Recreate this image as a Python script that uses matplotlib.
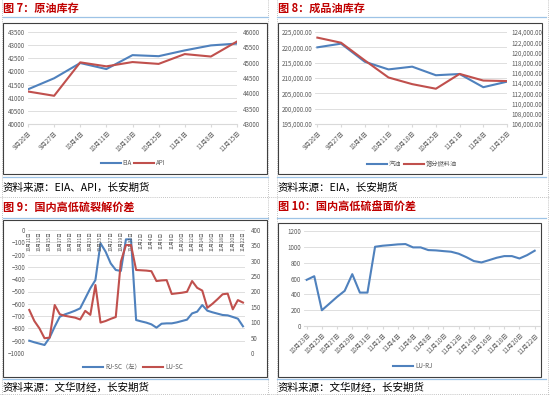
import matplotlib
matplotlib.use('Agg')
import matplotlib.pyplot as plt
import pandas as pd
from matplotlib.ticker import FuncFormatter, MultipleLocator
from matplotlib.patches import Rectangle

plt.rcParams['font.family'] = ['Noto Sans CJK SC', 'DejaVu Sans']

# ---------------- data ----------------
p7_weeks = ["9月20日", "9月27日", "10月4日", "10月11日", "10月18日",
            "10月25日", "11月1日", "11月8日", "11月15日"]
p7_eia = [41320, 41740, 42320, 42090, 42620, 42580, 42800, 42990, 43060]
p7_api = [44060, 43920, 45010, 44880, 45020, 44960, 45280, 45200, 45690]

p8_weeks = p7_weeks
p8_gasoline = [220000, 221200, 215300, 212800, 213700, 210900, 211300, 207000, 208800]
p8_distillate = [122900, 121900, 118450, 115100, 113800, 112900, 115800, 114500, 114400]

p9_dates = pd.date_range("2021-10-11", "2021-11-22", freq="D")
p9_rj_sc = [-900, -913, -924, -935, -875, -786, -705, -686, -672, -656, -637,
            -556, -474, -407, -108, -176, -271, -325, -333, -76, -76, -732,
            -743, -753, -767, -794, -762, -759, -759, -751, -740, -729, -678,
            -664, -610, -656, -669, -680, -691, -694, -707, -721, -783]
p9_lu_sc = [140, 104, 80, 48, 50, 156, 126, 121, 118, 115, 109, 137, 124, 221,
            99, 104, 111, 117, 297, 351, 351, 270, 269, 268, 266, 234, 236, 237,
            192, 194, 196, 199, 234, 212, 203, 147, 160, 175, 191, 193, 142, 172, 164]
p9_ticklabels = ["10月11日", "10月13日", "10月15日", "10月17日", "10月19日",
                 "10月21日", "10月23日", "10月25日", "10月27日", "10月29日",
                 "10月31日", "11月2日", "11月4日", "11月6日", "11月8日",
                 "11月10日", "11月12日", "11月14日", "11月16日", "11月18日",
                 "11月20日", "11月22日"]

p10_dates = pd.date_range("2021-10-23", "2021-11-22", freq="D")
p10_lu_rj = [583, 629, 199, 283, 368, 444, 655, 422, 422, 1001, 1014, 1022,
             1031, 1035, 993, 993, 959, 955, 946, 938, 913, 870, 820, 803, 832,
             862, 883, 883, 853, 895, 951]
p10_ticklabels = ["10月23日", "10月25日", "10月27日", "10月29日", "10月31日",
                  "11月2日", "11月4日", "11月6日", "11月8日", "11月10日",
                  "11月12日", "11月14日", "11月16日", "11月18日", "11月20日",
                  "11月22日"]

BLUE = '#4F81BD'
RED = '#C0504D'
GRID = '#D9D9D9'
TXT = '#595959'

W, H = 550, 395
fig = plt.figure(figsize=(5.5, 3.95), dpi=100)


def rect(x0, y0, x1, y1):
    return [x0 / W, 1 - y1 / H, (x1 - x0) / W, (y1 - y0) / H]


ov = fig.add_axes([0, 0, 1, 1], zorder=0)
ov.set_xlim(0, W)
ov.set_ylim(H, 0)
ov.axis('off')

# page decorations
for x in [2, 268, 277, 548]:
    ov.plot([x, x], [0, H], color='#B0B0B0', lw=0.6, ls=(0, (1, 1.5)))
for y in [197, 394]:
    ov.plot([0, W], [y, y], color='#B0B0B0', lw=0.6, ls=(0, (1, 1.5)))

titles = [(3, 8, "图 7：原油库存"), (278, 8, "图 8：成品油库存"),
          (3, 207, "图 9：国内高低硫裂解价差"), (278, 207, "图 10：国内高低硫盘面价差")]
for x, y, t in titles:
    ov.text(x, y, t, color='#C00000', fontsize=8, fontweight='bold', va='center', ha='left')

sources = [(3, 188, "资料来源：EIA、API，长安期货"), (278, 188, "资料来源：EIA，长安期货"),
           (3, 388, "资料来源：文华财经，长安期货"), (278, 388, "资料来源：文华财经，长安期货")]
for x, y, t in sources:
    ov.text(x, y, t, color='black', fontsize=7.6, va='center', ha='left')

for (x0, x1) in [(3, 268), (277, 546)]:
    for y in [17, 177, 218, 379]:
        ov.plot([x0, x1], [y, y], color='#9DC3E6', lw=0.9)

for (x0, y0, x1, y1) in [(3, 23, 267, 174), (278, 23, 542, 174),
                         (3, 220, 267, 377), (278, 223, 541, 377)]:
    ov.add_patch(Rectangle((x0, y0), x1 - x0, y1 - y0, fill=False, ec='#404040', lw=0.8))


def base(ax):
    ax.set_facecolor('none')
    for s in ax.spines.values():
        s.set_visible(False)
    ax.tick_params(labelsize=4.5, colors=TXT, length=0, pad=2)
    ax.grid(axis='y', color=GRID, lw=0.6)
    ax.set_axisbelow(True)


def legend(ax, handles, labels, x, y):
    ax.legend(handles, labels, loc='center', bbox_to_anchor=(x / W, 1 - y / H),
              bbox_transform=fig.transFigure, ncol=len(handles), frameon=False,
              fontsize=4.5, handlelength=3.2, columnspacing=0.4, handletextpad=0.3,
              labelcolor=TXT)


# ---------------- panel 7 ----------------
ax = fig.add_axes(rect(28, 32, 237, 124), zorder=1)
base(ax)
x7 = list(range(len(p7_weeks)))
ax.set_xlim(0, len(p7_weeks) - 1)
ax.set_ylim(40000, 43500)
ax.yaxis.set_major_locator(MultipleLocator(500))
ax.spines['bottom'].set_visible(True)
ax.spines['bottom'].set_color(GRID)
ax.set_xticks(x7)
ax.set_xticklabels(p7_weeks, rotation=45, ha='right', rotation_mode='anchor')
ax.tick_params(axis='x', length=2, color=GRID)
l1, = ax.plot(x7, p7_eia, color=BLUE, lw=1.5)
ax2 = ax.twinx()
ax2.set_facecolor('none')
for s in ax2.spines.values():
    s.set_visible(False)
ax2.set_ylim(43000, 46000)
ax2.yaxis.set_major_locator(MultipleLocator(500))
ax2.tick_params(labelsize=4.5, colors=TXT, length=0, pad=4)
l2, = ax2.plot(x7, p7_api, color=RED, lw=1.5)
legend(ax, [l1, l2], ["EIA", "API"], 133, 163)

# ---------------- panel 8 ----------------
ax = fig.add_axes(rect(315, 32, 507, 124), zorder=1)
base(ax)
x8 = list(range(len(p8_weeks)))
ax.set_xlim(-0.1, len(p8_weeks) - 1)
ax.set_ylim(195000, 225000)
ax.yaxis.set_major_locator(MultipleLocator(5000))
ax.yaxis.set_major_formatter(FuncFormatter(lambda v, p: f"{v:,.2f}"))
ax.spines['bottom'].set_visible(True)
ax.spines['bottom'].set_color(GRID)
ax.set_xticks(x8)
ax.set_xticklabels(p8_weeks, rotation=45, ha='right', rotation_mode='anchor')
ax.tick_params(axis='x', length=2, color=GRID)
l1, = ax.plot(x8, p8_gasoline, color=BLUE, lw=1.5)
ax2 = ax.twinx()
ax2.set_facecolor('none')
for s in ax2.spines.values():
    s.set_visible(False)
ax2.set_ylim(106000, 124000)
ax2.yaxis.set_major_locator(MultipleLocator(2000))
ax2.yaxis.set_major_formatter(FuncFormatter(lambda v, p: f"{v:,.2f}"))
ax2.tick_params(labelsize=4.5, colors=TXT, length=0, pad=3)
l2, = ax2.plot(x8, p8_distillate, color=RED, lw=1.5)
legend(ax, [l1, l2], ["汽油", "馏分燃料油"], 412, 164)

# ---------------- panel 9 ----------------
ax = fig.add_axes(rect(28, 230, 245, 353), zorder=1)
base(ax)
x9 = [(d - p9_dates[0]).days for d in p9_dates]
ax.set_xlim(-0.25, 42.4)
ax.set_ylim(-1000, 0)
ax.yaxis.set_major_locator(MultipleLocator(100))
ax.set_xticks([])
for i, lab in enumerate(p9_ticklabels):
    ax.text(x9[2 * i], -12, lab, rotation=90, ha='center', va='top',
            fontsize=3.4, color=TXT)
l1, = ax.plot(x9, p9_rj_sc, color=BLUE, lw=1.5)
ax2 = ax.twinx()
ax2.set_facecolor('none')
for s in ax2.spines.values():
    s.set_visible(False)
ax2.set_ylim(0, 400)
ax2.yaxis.set_major_locator(MultipleLocator(50))
ax2.tick_params(labelsize=4.5, colors=TXT, length=0, pad=4)
l2, = ax2.plot(x9, p9_lu_sc, color=RED, lw=1.5)
legend(ax, [l1, l2], ["RJ-SC（左）", "LU-SC"], 133, 367)

# ---------------- panel 10 ----------------
ax = fig.add_axes(rect(304, 231, 540, 326), zorder=1)
base(ax)
x10 = [(d - p10_dates[0]).days for d in p10_dates]
ax.set_xlim(-0.35, 30.7)
ax.set_ylim(0, 1200)
ax.yaxis.set_major_locator(MultipleLocator(200))
ax.spines['bottom'].set_visible(True)
ax.spines['bottom'].set_color(GRID)
ax.set_xticks(x10[::2])
ax.set_xticklabels(p10_ticklabels, rotation=45, ha='right', rotation_mode='anchor')
ax.tick_params(axis='x', length=2, color=GRID)
l1, = ax.plot(x10, p10_lu_rj, color=BLUE, lw=1.5)
legend(ax, [l1], ["LU-RJ"], 413, 366)

fig.savefig('out.png', dpi=100)
